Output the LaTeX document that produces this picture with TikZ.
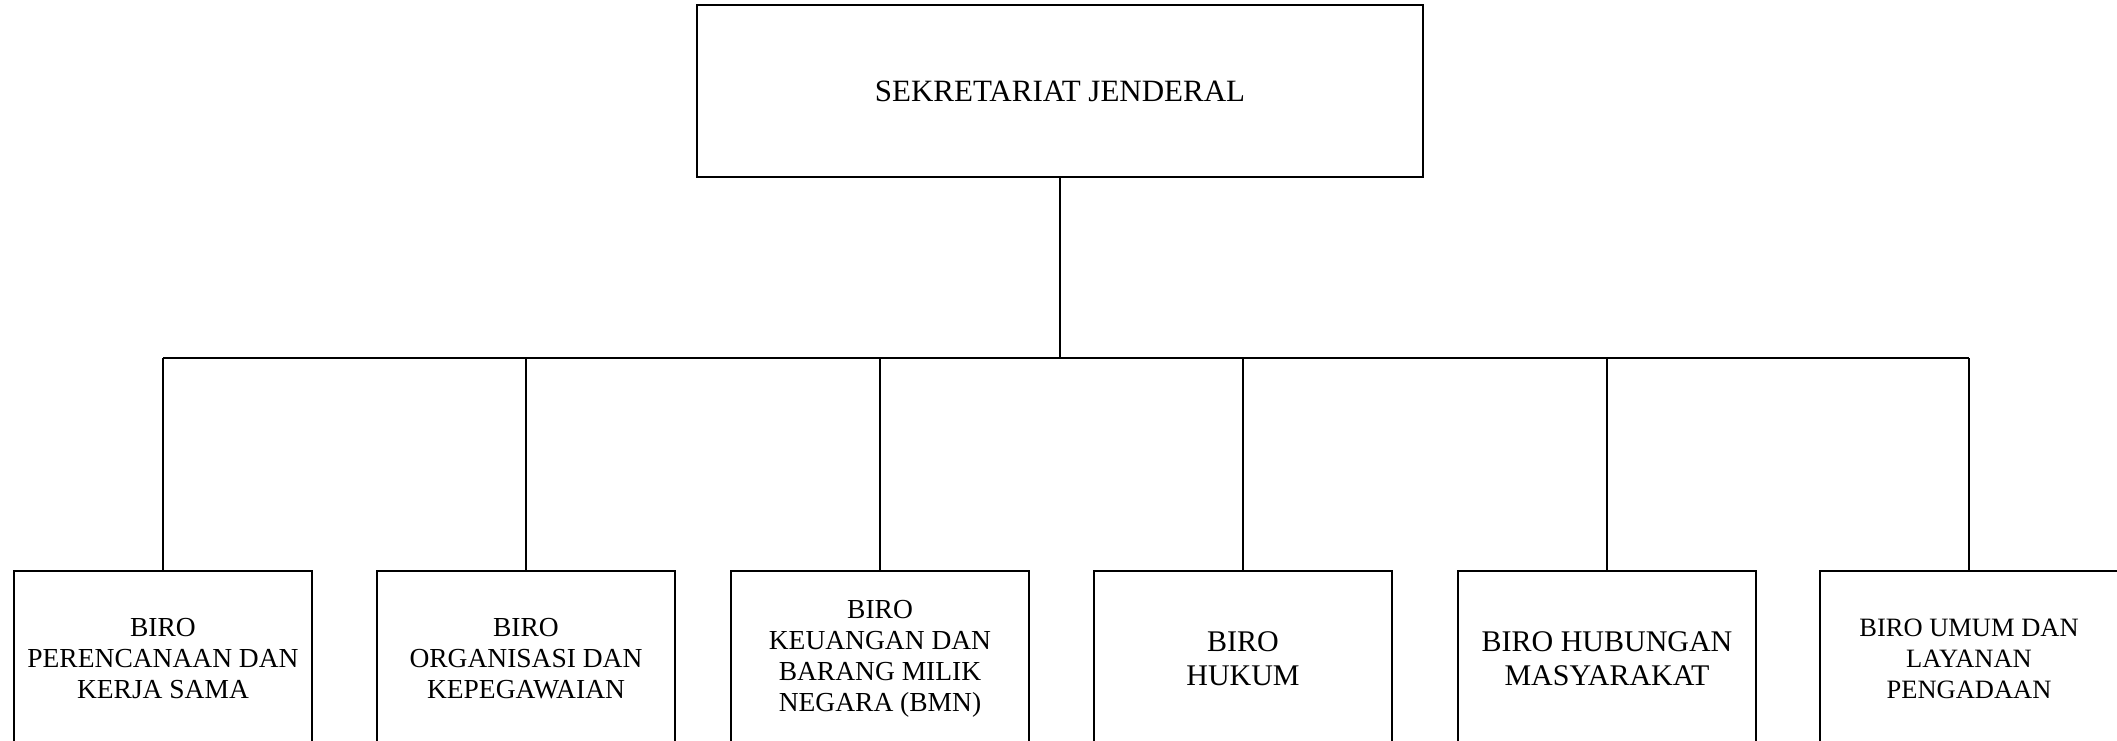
\documentclass[tikz,border=0pt]{standalone}
\usepackage{fontspec}
\setmainfont{Liberation Serif}
\begin{document}
\begin{tikzpicture}[x=1pt,y=-1pt,
  unitbox/.style={draw=black,line width=1.2pt,inner sep=0pt,align=center,
    minimum width=298pt,minimum height=176pt,font=\fontsize{27.5}{31}\selectfont},
  bigtext/.style={font=\fontsize{30}{34}\selectfont},
  smalltext/.style={font=\fontsize{26.5}{31}\selectfont},
  headbox/.style={draw=black,line width=1.3pt,inner sep=0pt,align=center,
    minimum width=726pt,minimum height=172pt,font=\fontsize{31}{36}\selectfont},
  link/.style={draw=black,line width=1.2pt},
  trunk/.style={draw=black,line width=2pt}]
\useasboundingbox (0,0) rectangle (2117,740);
\clip (0,0) rectangle (2117,740);

% head office
\node[headbox] (sekjen) at (1060,91) {SEKRETARIAT JENDERAL};

% bureaus
\node[unitbox] (b1) at (163,659) {BIRO\\PERENCANAAN DAN\\KERJA SAMA};
\node[unitbox] (b2) at (526,659) {BIRO\\ORGANISASI DAN\\KEPEGAWAIAN};
\node[unitbox] (b3) at (880,659) {BIRO\\KEUANGAN DAN\\BARANG MILIK\\NEGARA (BMN)};
\node[unitbox,bigtext] (b4) at (1243,659) {BIRO\\HUKUM};
\node[unitbox,bigtext] (b5) at (1607,659) {BIRO HUBUNGAN\\MASYARAKAT};
\node[unitbox,smalltext] (b6) at (1969,659) {BIRO UMUM DAN\\LAYANAN\\PENGADAAN};

% connectors
\coordinate (bus) at (1060,358);
\draw[trunk] (sekjen.south) -- (bus);
\draw[link] (b1.north |- bus) -- (b6.north |- bus);
\foreach \b in {b1,b2,b3,b4,b5,b6}
  \draw[link] (\b.north |- bus) -- (\b.north);
\end{tikzpicture}
\end{document}
